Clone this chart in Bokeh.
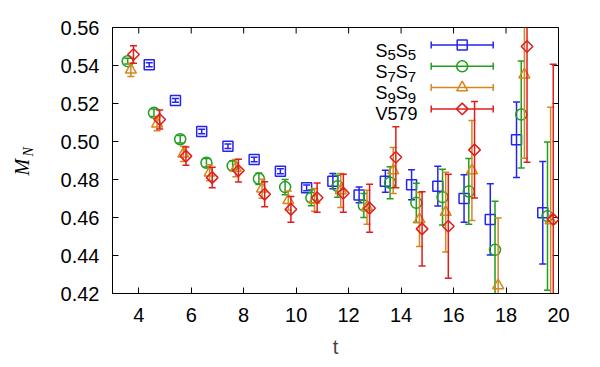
import math

from bokeh.core.properties import value
from bokeh.embed import file_html
from bokeh.models import ColumnDataSource, FixedTicker, PrintfTickFormatter, Range1d, Title
from bokeh.plotting import figure
from bokeh.resources import INLINE

# Nucleon mass M_N versus time separation t for four smearing choices
t_s5 = [4, 5, 6, 7, 8, 9, 10, 11, 12, 13, 14, 15, 16, 17, 18, 19]
m_s5 = [0.5404, 0.5216, 0.5053, 0.4975, 0.4905, 0.4843, 0.4756, 0.4791, 0.4719, 0.4791,
        0.4772, 0.4765, 0.4700, 0.4590, 0.5009, 0.4625]
e_s5 = [0.0010, 0.0010, 0.0012, 0.0012, 0.0012, 0.0013, 0.0015, 0.0040, 0.0042, 0.0058,
        0.0079, 0.0105, 0.0125, 0.0187, 0.0199, 0.0270]

t_s7 = [3, 4, 5, 6, 7, 8, 9, 10, 11, 12, 13, 14, 15, 16, 17, 18, 19]
m_s7 = [0.5423, 0.5151, 0.5012, 0.4888, 0.4872, 0.4804, 0.4760, 0.4704, 0.4765, 0.4663,
        0.4783, 0.4677, 0.4707, 0.4737, 0.4430, 0.5142, 0.4607]
e_s7 = [0.0015, 0.0020, 0.0020, 0.0022, 0.0025, 0.0030, 0.0040, 0.0042, 0.0058, 0.0063,
        0.0084, 0.0103, 0.0147, 0.0173, 0.0256, 0.0282, 0.0390]

t_s9 = [3, 4, 5, 6, 7, 8, 9, 10, 11, 12, 13, 14, 15, 16, 17, 18, 19]
m_s9 = [0.5377, 0.5093, 0.4935, 0.4835, 0.4860, 0.4751, 0.4690, 0.4693, 0.4742, 0.4654,
        0.4847, 0.4590, 0.4628, 0.4847, 0.4242, 0.5351, 0.4584]
e_s9 = [0.0035, 0.0037, 0.0040, 0.0042, 0.0045, 0.0050, 0.0050, 0.0060, 0.0090, 0.0090,
        0.0121, 0.0142, 0.0210, 0.0263, 0.0356, 0.0439, 0.0596]

t_v579 = [3, 4, 5, 6, 7, 8, 9, 10, 11, 12, 13, 14, 15, 16, 18, 19]
m_v579 = [0.5458, 0.5116, 0.4923, 0.4810, 0.4847, 0.4722, 0.4643, 0.4704, 0.4728, 0.4649,
          0.4917, 0.4540, 0.4554, 0.4956, 0.5500, 0.4590]
e_v579 = [0.0046, 0.0050, 0.0048, 0.0054, 0.0060, 0.0066, 0.0068, 0.0077, 0.0100, 0.0126,
          0.0161, 0.0195, 0.0274, 0.0254, 0.0609, 0.0816]

x_ticks = [4, 6, 8, 10, 12, 14, 16, 18, 20]
y_ticks = [0.42, 0.44, 0.46, 0.48, 0.50, 0.52, 0.54, 0.56]

# legend text: (piece, is_subscript)
series = [
    dict(t=t_s5, m=m_s5, e=e_s5, dx=0.40, color="#2424f0", marker="square", size=10, angle=0.0,
         label=[("S", False), ("5", True), ("S", False), ("5", True)]),
    dict(t=t_s7, m=m_s7, e=e_s7, dx=0.58, color="#1f9e1f", marker="circle", size=11, angle=0.0,
         label=[("S", False), ("7", True), ("S", False), ("7", True)]),
    dict(t=t_s9, m=m_s9, e=e_s9, dx=0.70, color="#d5861e", marker="triangle", size=11, angle=0.0,
         label=[("S", False), ("9", True), ("S", False), ("9", True)]),
    dict(t=t_v579, m=m_v579, e=e_v579, dx=0.80, color="#e01c1c", marker="square", size=8.2,
         angle=math.pi / 4, label=[("V579", False)]),
]

FONT = "Liberation Sans"
FRAME_W, FRAME_H = 446, 266
X0, X1, Y0, Y1 = 3, 20, 0.42, 0.56

p = figure(width=600, height=367, output_backend="svg", toolbar_location=None,
           x_range=Range1d(X0, X1), y_range=Range1d(Y0, Y1),
           min_border_left=112, min_border_right=42, min_border_top=27, min_border_bottom=74)
p.background_fill_color = "white"
p.border_fill_color = "white"
p.outline_line_color = "black"
p.outline_line_width = 1
p.xgrid.visible = False
p.ygrid.visible = False

# pixel-like coordinate system inside the frame for the key
p.extra_x_ranges = {"px": Range1d(0, FRAME_W)}
p.extra_y_ranges = {"py": Range1d(0, FRAME_H)}

for ax, ticks in ((p.xaxis[0], x_ticks), (p.yaxis[0], y_ticks)):
    ax.ticker = FixedTicker(ticks=ticks)
    ax.major_tick_in = 6
    ax.major_tick_out = 0
    ax.minor_tick_line_color = None
    ax.axis_line_color = "black"
    ax.major_tick_line_color = "black"
    ax.major_label_text_font = FONT
    ax.major_label_text_font_size = "20px"
    ax.major_label_text_color = "black"

p.xaxis.major_label_standoff = 14
p.xaxis.axis_label = "t"
p.xaxis.axis_label_text_font = FONT
p.xaxis.axis_label_text_font_style = "normal"
p.xaxis.axis_label_text_font_size = "20px"
p.xaxis.axis_label_standoff = 11
p.yaxis.major_label_standoff = 13
p.yaxis.formatter = PrintfTickFormatter(format="%.2f")

# y-axis title M_N: subscript N next to the tick labels, M pulled back over it
p.add_layout(Title(text="N", align="left", offset=137, vertical_align="top", standoff=40,
                   text_font="Liberation Serif", text_font_style="italic", text_font_size="14px",
                   text_color="black"), "left")
p.add_layout(Title(text="M", align="left", offset=118, vertical_align="bottom", standoff=-64,
                   text_font="Liberation Serif", text_font_style="italic", text_font_size="20px",
                   text_color="black"), "left")

# mirrored inward ticks on the top and right edges (half of each dash is clipped by the frame)
p.scatter(x=x_ticks, y=[Y1] * len(x_ticks), marker="dash", angle=math.pi / 2, size=12,
          line_color="black", line_width=1)
p.scatter(x=[X1] * len(y_ticks), y=y_ticks, marker="dash", size=12, line_color="black", line_width=1)

# data: vertical error bars with caps, open markers on top
for s in series:
    xs = [t + s["dx"] for t in s["t"]]
    lo = [m - e for m, e in zip(s["m"], s["e"])]
    hi = [m + e for m, e in zip(s["m"], s["e"])]
    src = ColumnDataSource(dict(x=xs, m=s["m"], lo=lo, hi=hi))
    p.segment(x0="x", y0="lo", x1="x", y1="hi", source=src, line_color=s["color"], line_width=1.5)
    p.scatter(x="x", y="lo", source=src, marker="dash", size=7, line_color=s["color"], line_width=1.5)
    p.scatter(x="x", y="hi", source=src, marker="dash", size=7, line_color=s["color"], line_width=1.5)
    p.scatter(x="x", y="m", source=src, marker=s["marker"], size=s["size"], angle=s["angle"],
              fill_color=None, line_color=s["color"], line_width=1.5)

# key in the upper right, drawn in frame pixels
key_top, key_step = 248.5, 21.3
key_x0, key_x1, key_mid = 318.7, 380.7, 349.7
text_left = 263.0
main_size, sub_size = 18, 15
char_w = {"S": 0.667, "V": 0.667}
for i, s in enumerate(series):
    ry = key_top - i * key_step
    kw = dict(x_range_name="px", y_range_name="py")
    p.segment(x0=[key_x0], y0=[ry], x1=[key_x1], y1=[ry], line_color=s["color"], line_width=1.5, **kw)
    p.scatter(x=[key_x0, key_x1], y=[ry, ry], marker="dash", angle=math.pi / 2, size=7,
              line_color=s["color"], line_width=1.5, **kw)
    p.scatter(x=[key_mid], y=[ry], marker=s["marker"], size=s["size"], angle=s["angle"],
              fill_color=None, line_color=s["color"], line_width=1.5, **kw)
    cx = text_left
    for piece, is_sub in s["label"]:
        fs = sub_size if is_sub else main_size
        yy = ry - (10.3 if is_sub else 5.5)
        p.text(x=[cx], y=[yy], text=[piece], text_font=value(FONT), text_font_size=f"{fs}px",
               text_color="black", text_align="left", text_baseline="alphabetic", **kw)
        cx += sum(char_w.get(c, 0.556) for c in piece) * fs

open("out.html", "w").write(file_html(p, INLINE))
